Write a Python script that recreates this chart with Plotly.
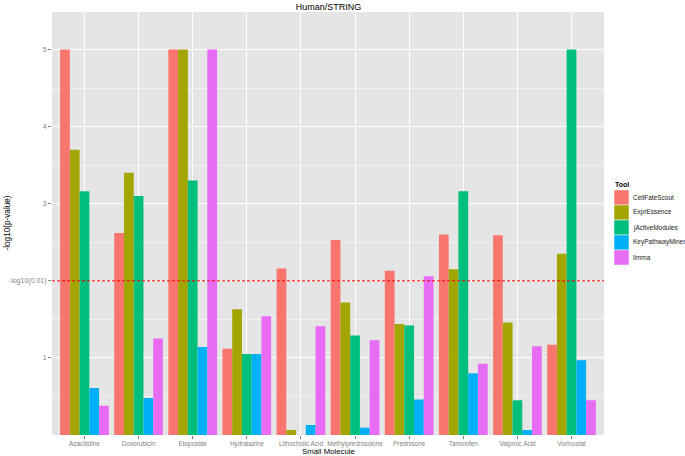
import plotly.graph_objects as go

# ---------------- data ----------------
categories = ["Azacitidine", "Doxorubicin", "Etoposide", "Hydralazine", "Lithocholic Acid",
              "Methylprednisolone", "Prednisone", "Tamoxifen", "Valproic Acid", "Vorinostat"]
tools = ["CellFateScout", "ExprEssence", "jActiveModules", "KeyPathwayMiner", "limma"]
cellfatescout = [5.0, 2.62, 5.0, 1.12, 2.16, 2.53, 2.13, 2.60, 2.59, 1.17]
expressence = [3.70, 3.40, 5.0, 1.63, 0.065, 1.72, 1.44, 2.15, 1.46, 2.35]
jactivemodules = [3.16, 3.10, 3.30, 1.05, 0.0, 1.29, 1.42, 3.16, 0.45, 5.0]
keypathwayminer = [0.61, 0.48, 1.14, 1.05, 0.13, 0.095, 0.46, 0.80, 0.065, 0.97]
limma = [0.38, 1.25, 5.0, 1.54, 1.41, 1.23, 2.06, 0.925, 1.15, 0.45]
threshold = 2.0  # -log10(0.01)
ytick_vals = [1, 2, 3, 4, 5]
ytick_text = ["1", "-log10(0.01)", "3", "4", "5"]
yminor_vals = [0.5, 1.5, 2.5, 3.5, 4.5]

series = [cellfatescout, expressence, jactivemodules, keypathwayminer, limma]
colors = ["#F8766D", "#A3A500", "#00BF7D", "#00B0F6", "#E76BF3"]

# ---------------- layout geometry ----------------
W, H = 685, 456
L, R, T, B = 52, 81, 12, 21
PW, PH = W - L - R, H - T - B
FONT = "Liberation Sans, Arial, Helvetica, sans-serif"


def px(x):
    return (x - L) / PW


def py(y):
    return (H - B - y) / PH


fig = go.Figure()
for name, vals, col in zip(tools, series, colors):
    fig.add_trace(go.Bar(x=categories, y=vals, name=name, marker=dict(color=col, line=dict(width=0)),
                         showlegend=False))

fig.add_shape(type="line", xref="x domain", x0=0, x1=1, yref="y", y0=threshold, y1=threshold,
              line=dict(color="#FF0000", width=1, dash="3px,2px"))

annotations = []
shapes = []
# legend (ggplot-style)
annotations.append(dict(text="<b>Tool</b>", xref="paper", yref="paper", x=px(613), y=py(184),
                        xanchor="left", yanchor="middle", showarrow=False,
                        font=dict(size=7, color="#000000", family=FONT)))
for i, (name, col) in enumerate(zip(tools, colors)):
    y0 = 190 + 15 * i
    shapes.append(dict(type="rect", xref="paper", yref="paper", x0=px(614), x1=px(629),
                       y0=py(y0), y1=py(y0 + 15), fillcolor=col, line=dict(width=0.5, color="#FFFFFF")))
    annotations.append(dict(text=name, xref="paper", yref="paper", x=px(631), y=py(y0 + 7.5),
                            xanchor="left", yanchor="middle", showarrow=False,
                            font=dict(size=6.5, color="#1A1A1A", family=FONT)))
# axis titles
annotations.append(dict(text="Small Molecule", xref="paper", yref="paper", x=0.5, y=py(451.5),
                        xanchor="center", yanchor="middle", showarrow=False,
                        font=dict(size=7.8, color="#000000", family=FONT)))
annotations.append(dict(text="-log10(p-value)", xref="paper", yref="paper", x=px(7), y=0.5,
                        xanchor="center", yanchor="middle", showarrow=False, textangle=-90,
                        font=dict(size=8.2, color="#000000", family=FONT)))
for s in shapes:
    fig.add_shape(**s)

fig.update_layout(
    width=W, height=H,
    margin=dict(l=L, r=R, t=T, b=B, pad=0),
    paper_bgcolor="#FFFFFF",
    plot_bgcolor="#E5E5E5",
    barmode="group", bargap=0.1, bargroupgap=0.0,
    font=dict(family=FONT, color="#000000"),
    title=dict(text="Human/STRING", x=px(328.5), xref="paper", xanchor="center",
               y=1 - 6.5 / H, yref="container", yanchor="middle",
               font=dict(size=9, color="#000000", family=FONT)),
    annotations=annotations,
    showlegend=False,
)
fig.update_xaxes(
    type="category", range=[-0.6, 9.6], showgrid=True, gridcolor="#FFFFFF", gridwidth=1,
    ticks="outside", ticklen=2.5, tickwidth=1, tickcolor="#7F7F7F",
    tickfont=dict(size=6.4, color="#7F7F7F", family=FONT),
    showline=False, zeroline=False, automargin=False, fixedrange=True,
)
fig.update_yaxes(
    range=[0, 5.486], tickmode="array", tickvals=ytick_vals, ticktext=ytick_text,
    showgrid=True, gridcolor="#FFFFFF", gridwidth=1,
    ticks="outside", ticklen=3, tickwidth=1, tickcolor="#7F7F7F",
    tickfont=dict(size=7, color="#7F7F7F", family=FONT),
    minor=dict(tickmode="array", tickvals=yminor_vals, showgrid=True, gridcolor="#F2F2F2", gridwidth=0.6,
               ticks=""),
    showline=False, zeroline=False, automargin=False, fixedrange=True,
)

fig.write_html("out.html", config={"displayModeBar": False},
               post_script="document.body.style.margin='0';document.body.style.overflow='hidden';")
